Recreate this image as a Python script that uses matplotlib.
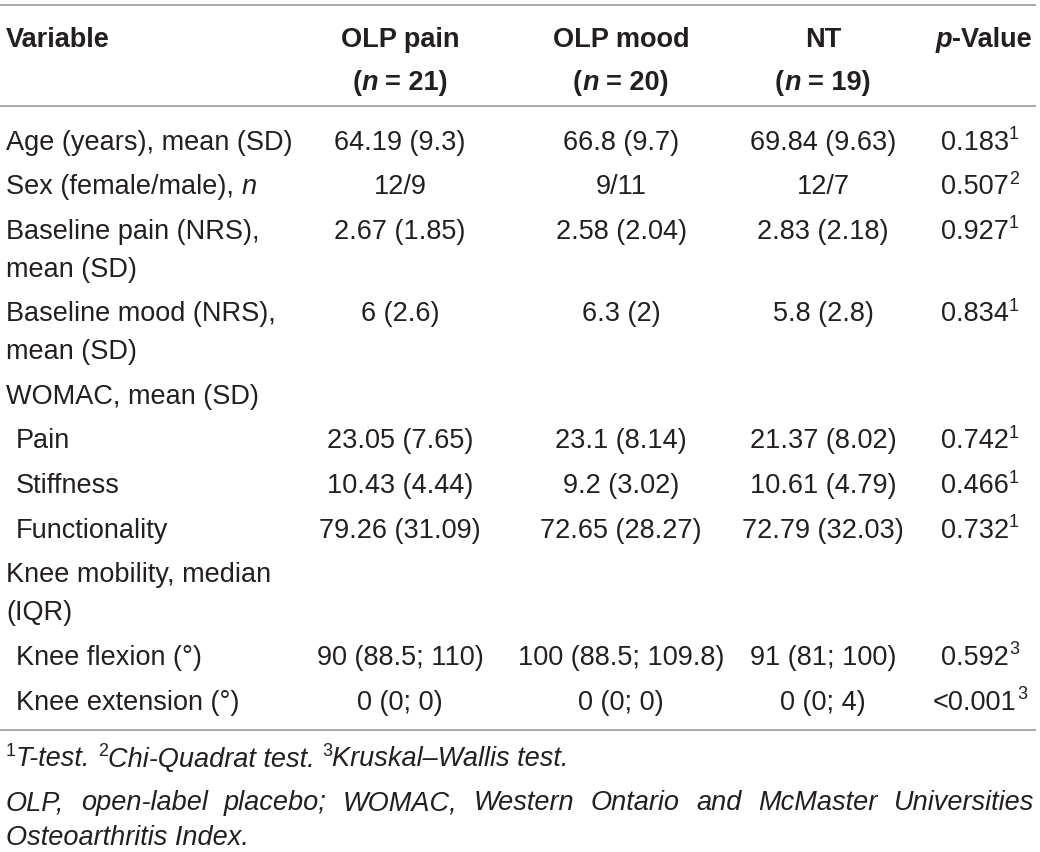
import re
import matplotlib
matplotlib.use('Agg')
import matplotlib.pyplot as plt

plt.rcParams['font.family'] = ['Liberation Sans', 'DejaVu Sans']

# table content
headers = ["Variable", "OLP pain", "OLP mood", "NT", "*p*-Value"]
group_n = ["(*n* = 21)", "(*n* = 20)", "(*n* = 19)"]

labels = ["Age (years), mean (SD)", "Sex (female/male), *n*",
          "Baseline pain (NRS),\nmean (SD)", "Baseline mood (NRS),\nmean (SD)",
          "WOMAC, mean (SD)", "Pain", "Stiffness", "Functionality",
          "Knee mobility, median\n(IQR)", "Knee flexion (°)", "Knee extension (°)"]
indent = [0, 0, 0, 0, 0, 1, 1, 1, 0, 1, 1]
olp_pain = ["64.19 (9.3)", "12/9", "2.67 (1.85)", "6 (2.6)", "", "23.05 (7.65)",
            "10.43 (4.44)", "79.26 (31.09)", "", "90 (88.5; 110)", "0 (0; 0)"]
olp_mood = ["66.8 (9.7)", "9/11", "2.58 (2.04)", "6.3 (2)", "", "23.1 (8.14)",
            "9.2 (3.02)", "72.65 (28.27)", "", "100 (88.5; 109.8)", "0 (0; 0)"]
nt = ["69.84 (9.63)", "12/7", "2.83 (2.18)", "5.8 (2.8)", "", "21.37 (8.02)",
      "10.61 (4.79)", "72.79 (32.03)", "", "91 (81; 100)", "0 (0; 4)"]
p_values = ["0.183", "0.507", "0.927", "0.834", "", "0.742", "0.466", "0.732",
            "", "0.592", "<0.001"]
p_tests = ["1", "2", "1", "1", "", "1", "1", "1", "", "3", "3"]

tests = [("1", "T-test."), ("2", "Chi-Quadrat test."), ("3", "Kruskal–Wallis test.")]
abbrev = ("OLP, open-label placebo; WOMAC, Western Ontario and McMaster Universities "
          "Osteoarthritis Index.")

# look
FS = 19.5
TEXT = '#231f20'
RULE = '#9a9a9a'
RAISE = 10.5
STYLES = {
    'r': dict(fontsize=FS),
    'i': dict(fontsize=FS, style='italic'),
    'b': dict(fontsize=FS, weight='bold'),
    'bi': dict(fontsize=FS, weight='bold', style='italic'),
    'sup': dict(fontsize=FS * 0.66),
}

fig = plt.figure(figsize=(10.4, 8.53), dpi=100)
ax = fig.add_axes([0, 0, 1, 1])
ax.set_xlim(0, 1040)
ax.set_ylim(853, 0)
ax.axis('off')
renderer = fig.canvas.get_renderer()

_space = {}


def space_w(st):
    if st not in _space:
        a = ax.text(0, 0, 'n n', **STYLES[st])
        b = ax.text(0, 0, 'nn', **STYLES[st])
        _space[st] = a.get_window_extent(renderer).width - b.get_window_extent(renderer).width
        a.remove()
        b.remove()
    return _space[st]


def parse(s, base='r', ital='i'):
    runs = []
    for piece in re.split(r'(\*[^*]+\*)', s):
        if not piece:
            continue
        if piece.startswith('*'):
            runs.append((piece.strip('*'), ital))
        else:
            runs.append((piece, base))
    return runs


def draw_runs(x, yc, runs, ha='left'):
    y = yc + 9.5
    parts = []
    for s, st in runs:
        lead = len(s) - len(s.lstrip(' '))
        trail = len(s) - len(s.rstrip(' '))
        core = s.strip(' ')
        dy = -RAISE if st == 'sup' else 0
        t = ax.text(0, y + dy, core, ha='left', va='baseline', color=TEXT, **STYLES[st])
        w = t.get_window_extent(renderer).width if core else 0
        sp = space_w(st)
        parts.append((t, lead * sp, w, trail * sp))
    total = sum(a + w + c for _, a, w, c in parts)
    if ha == 'center':
        cur = x - total / 2
    elif ha == 'right':
        cur = x - total
    else:
        cur = x
    for t, a, w, c in parts:
        cur += a
        t.set_x(cur)
        cur += w + c
    return total


col_x = [400, 621, 823]
p_center = 980
x0 = 6
x_indent = 16

# rules
ax.hlines([6, 107, 731], 0, 1036, color=RULE, lw=1.2)

# header
draw_runs(x0, 37, parse(headers[0], 'b', 'bi'))
for i in range(3):
    draw_runs(col_x[i], 37, parse(headers[i + 1], 'b', 'bi'), ha='center')
    draw_runs(col_x[i], 80, parse(group_n[i], 'b', 'bi'), ha='center')
draw_runs(1032, 37, parse(headers[4], 'b', 'bi'), ha='right')

# body
y = 140
line_step = 38
row_step = 44.6
for i, lab in enumerate(labels):
    lines = lab.split('\n')
    lx = x_indent if indent[i] else x0
    for k, ln in enumerate(lines):
        draw_runs(lx, y + k * line_step, parse(ln))
    for j, col in enumerate([olp_pain, olp_mood, nt]):
        if col[i]:
            draw_runs(col_x[j], y, [(col[i], 'r')], ha='center')
    if p_values[i]:
        draw_runs(p_center, y, [(p_values[i], 'r'), (p_tests[i], 'sup')], ha='center')
    y += (len(lines) - 1) * line_step + row_step

# footnotes
fn_runs = []
for k, (num, name) in enumerate(tests):
    fn_runs.append((num, 'sup'))
    fn_runs.append((name + (' ' if k < len(tests) - 1 else ''), 'i'))
draw_runs(x0, 757, fn_runs)

# justified abbreviation line
words = abbrev.split(' ')
first = words[:9]
rest = ' '.join(words[9:])
arts = [ax.text(0, 801 + 9.5, w, style='italic', fontsize=FS, color=TEXT,
                ha='left', va='baseline') for w in first]
widths = [a.get_window_extent(renderer).width for a in arts]
gap = (1034 - x0 - sum(widths)) / (len(first) - 1)
cur = x0
for a, w in zip(arts, widths):
    a.set_x(cur)
    cur += w + gap
draw_runs(x0, 836, [(rest, 'i')])

fig.savefig('out.png', dpi=100)
